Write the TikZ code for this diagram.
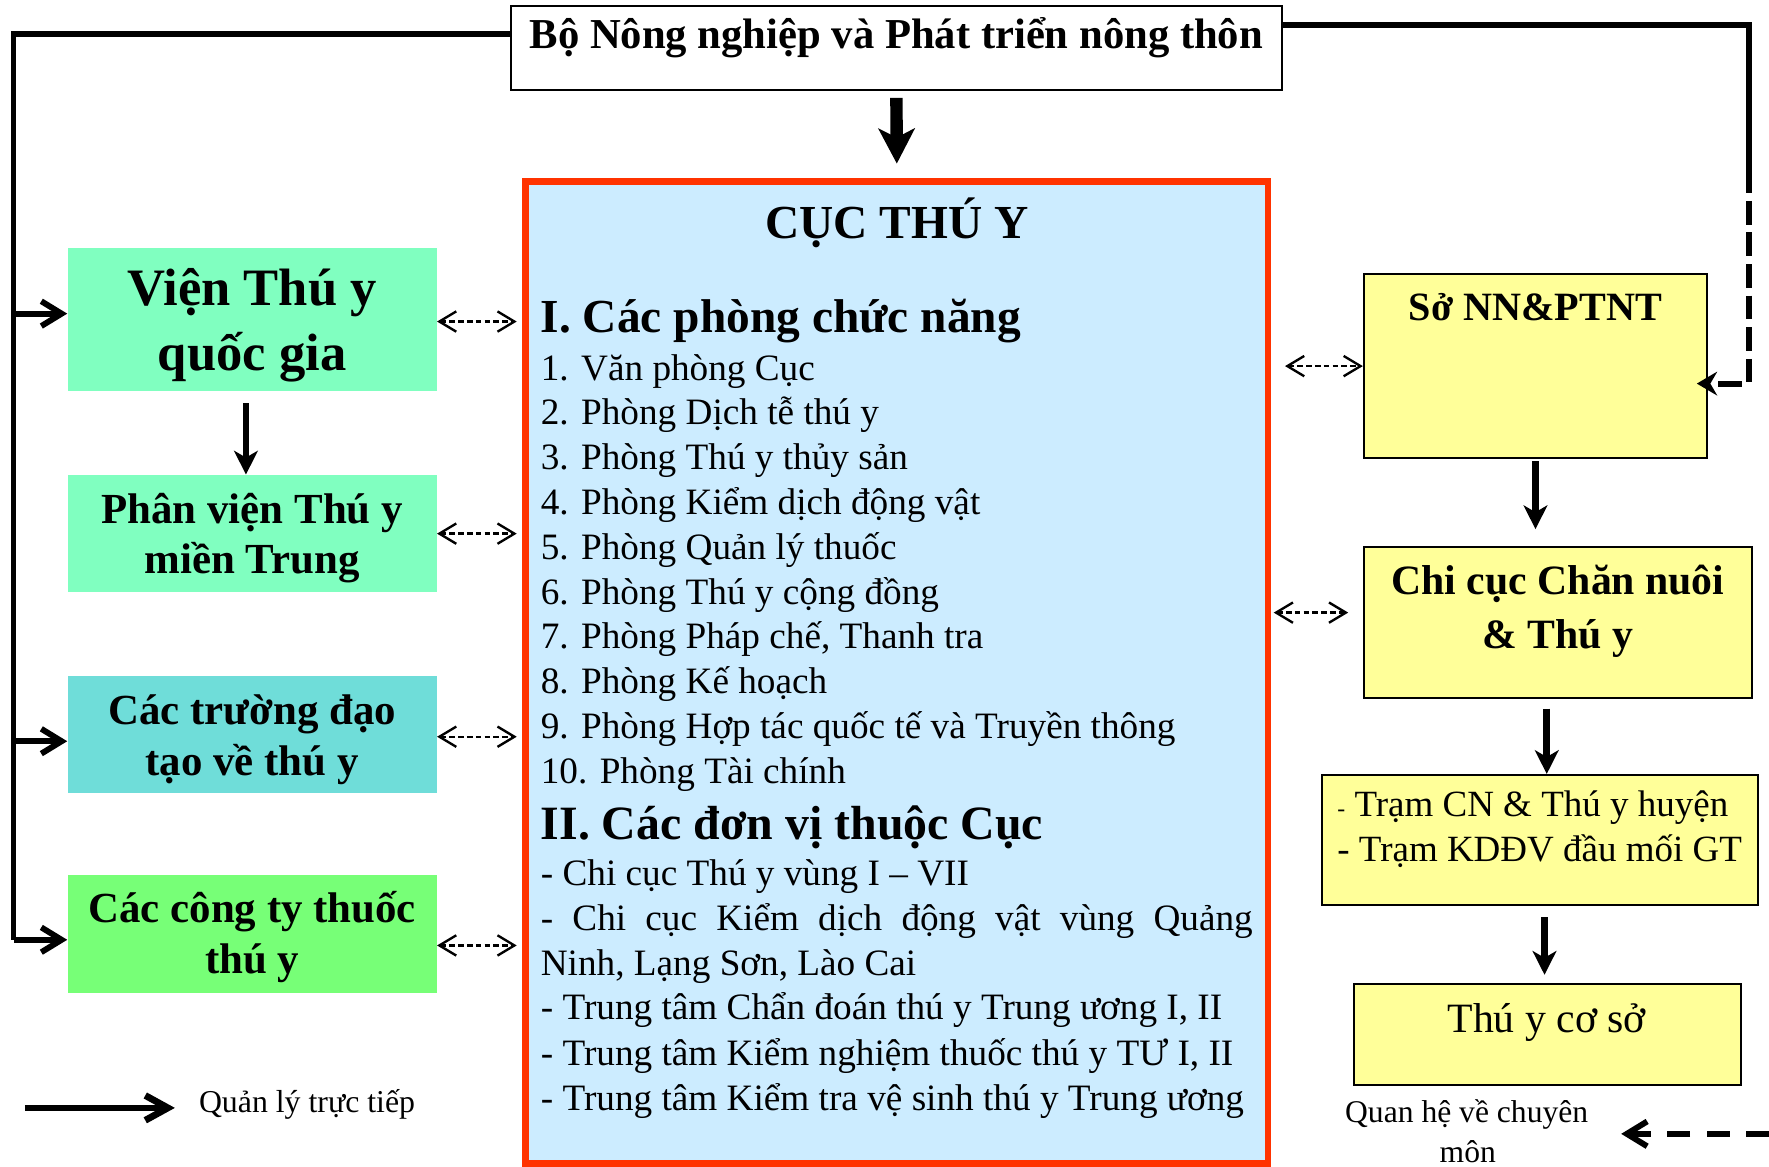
\documentclass[tikz,border=0pt]{standalone}
\usepackage{fontspec}
\setmainfont{Liberation Serif}
\usetikzlibrary{arrows.meta,calc}
\definecolor{mint}{HTML}{80FFC0}
\definecolor{tealbox}{HTML}{6FDDD9}
\definecolor{lgreen}{HTML}{77FF77}
\definecolor{cucblue}{HTML}{CCECFF}
\definecolor{cucred}{HTML}{FF3300}
\definecolor{lyellow}{HTML}{FFFF99}
\begin{document}
\begin{tikzpicture}[x=0.5pt,y=-0.5pt,
  txt/.style={inner sep=0pt, font=\fontsize{#1}{#1}\selectfont},
  btxt/.style={inner sep=0pt, font=\fontsize{#1}{#1}\selectfont\bfseries},
  lbox/.style={draw=none, inner sep=0pt, minimum width=163.5pt, minimum height=52pt},
  ybox/.style={draw=black, line width=1pt, fill=lyellow, inner sep=0pt},
  thickline/.style={line width=2.6pt},
  barb/.style={line width=2.6pt, -{Straight Barb[length=9pt,width=11pt]}},
  bigarrow/.style={line width=3pt, -{Stealth[length=10.5pt,width=10.5pt,inset=3pt]}},
  rel/.style={line width=1.05pt, dash pattern=on 2.5pt off 1.4pt,
    {Straight Barb[length=7.5pt,width=9pt]}-{Straight Barb[length=7.5pt,width=9pt]}},
]
\useasboundingbox (0,0) rectangle (1568,1034);

% top box
\node[draw=black, line width=0.8pt, minimum width=341.5pt, minimum height=37.5pt, inner sep=0pt] (bo) at (794.5,42.5) {};
\node[btxt=18.9, anchor=base] (botxt) at (794.5,43) {Bộ Nông nghiệp và Phát triển nông thôn};

% central box
\node[draw=cucred, line width=3pt, fill=cucblue, minimum width=329pt, minimum height=435pt, inner sep=0pt] (cuc) at (795,596) {};
\node[btxt=21, anchor=base] (cuct) at (795,211) {CỤC THÚ Y};
\node[btxt=21, anchor=base west] (h1) at (479,295) {I. Các phòng chức năng};
\foreach \t [count=\i] in {1. Văn phòng Cục, 2. Phòng Dịch tễ thú y, 3. Phòng Thú y thủy sản,
  4. Phòng Kiểm dịch động vật, 5. Phòng Quản lý thuốc, 6. Phòng Thú y cộng đồng,
  {7. Phòng Pháp chế, Thanh tra}, 8. Phòng Kế hoạch, 9. Phòng Hợp tác quốc tế và Truyền thông,
  10. Phòng Tài chính}
  \node[txt=16.5, anchor=base west] (p\i) at (479,{337+39.7*(\i-1)}) {\t};
\node[btxt=21.2, anchor=base west] (h2) at (479,744) {II. Các đơn vị thuộc Cục};
\node[txt=16.5, anchor=base west] (u1) at (479,785) {- Chi cục Thú y vùng I – VII};
\node[txt=16.5, anchor=base west] (u2) at (479,825) {\makebox[315.5pt][s]{- Chi cục Kiểm dịch động vật vùng Quảng}};
\node[txt=16.5, anchor=base west] (u3) at (479,865) {Ninh, Lạng Sơn, Lào Cai};
\node[txt=16.5, anchor=base west] (u4) at (479,904) {- Trung tâm Chẩn đoán thú y Trung ương I, II};
\node[txt=16.5, anchor=base west] (u5) at (479,944) {- Trung tâm Kiểm nghiệm thuốc thú y TƯ I, II};
\node[txt=16.5, anchor=base west] (u6) at (479,984) {- Trung tâm Kiểm tra vệ sinh thú y Trung ương};

% left boxes
\node[lbox, fill=mint, minimum height=63.5pt] (vien) at (223.5,283.5) {};
\node[btxt=23.3, anchor=base] (vien1) at (223.5,271) {Viện Thú y};
\node[btxt=23.3, anchor=base] (vien2) at (223.5,328) {quốc gia};
\node[lbox, fill=mint] (phan) at (223.5,473) {};
\node[btxt=19, anchor=base] (phan1) at (223.5,464) {Phân viện Thú y};
\node[btxt=19, anchor=base] (phan2) at (223.5,508) {miền Trung};
\node[lbox, fill=tealbox] (truong) at (223.5,651) {};
\node[btxt=19, anchor=base] (truong1) at (223.5,642) {Các trường đạo};
\node[btxt=19, anchor=base] (truong2) at (223.5,687) {tạo về thú y};
\node[lbox, fill=lgreen] (congty) at (223.5,828) {};
\node[btxt=19, anchor=base] (congty1) at (223.5,818) {Các công ty thuốc};
\node[btxt=19, anchor=base] (congty2) at (223.5,863) {thú y};

% right boxes
\node[ybox, minimum width=152pt, minimum height=81.5pt] (so) at (1361,324.5) {};
\node[btxt=17.8, anchor=base] (sot) at (1361,284) {Sở NN\&PTNT};
\node[ybox, minimum width=172pt, minimum height=67pt] (chicuc) at (1381,552) {};
\node[btxt=18.5, anchor=base] (chicuc1) at (1381,527) {Chi cục Chăn nuôi};
\node[btxt=18.5, anchor=base] (chicuc2) at (1381,575) {\& Thú y};
\node[ybox, minimum width=193pt, minimum height=57.5pt] (tram) at (1365,744.5) {};
\node[txt=16.4, anchor=base west] (tram1) at (1185,724) {{\fontsize{10.5}{10.5}\selectfont -} Trạm CN \& Thú y huyện};
\node[txt=16.4, anchor=base west] (tram2) at (1185,764) {- Trạm KDĐV đầu mối GT};
\node[ybox, minimum width=171.5pt, minimum height=45pt] (coso) at (1371.5,917) {};
\node[txt=18.5, anchor=base] (cosot) at (1371,915) {Thú y cơ sở};

% legend texts
\node[txt=14.1, anchor=base west] (lg1t) at (176,986) {Quản lý trực tiếp};
\node[txt=14, anchor=base] (lg2t) at (1300,995) {Quan hệ về chuyên};
\node[txt=14, anchor=base] (lg2u) at (1301,1030) {môn};

% main management lines
\coordinate (lbot) at (12,833);
\coordinate (b1) at (12,278);
\coordinate (b2) at (12,657);
\draw[thickline] ([yshift=6pt]bo.west) -| (lbot);
\draw[barb] (b1) -- (b1 -| vien.west);
\draw[barb] (b2) -- (b2 -| truong.west);
\draw[barb] (lbot) -- (lbot -| congty.west);

\draw[line width=5.5pt, -{Stealth[length=15.5pt,width=16pt,inset=4pt]}, shorten <=3pt, shorten >=6.5pt] (bo.south) -- (cuc.north);
\coordinate (va) at ([xshift=-2.75pt]vien.south);
\draw[bigarrow, shorten <=5pt] (va) -- (va |- phan.north);

% right line to So
\coordinate (rc) at (1550,171);
\coordinate (rc2) at (1550,178);
\coordinate (rd) at (1550,340);
\draw[thickline] ([yshift=10.25pt]bo.east) -| (rc);
\draw[thickline, dash pattern=on 10.5pt off 3.5pt, -{Stealth[length=9pt,width=10.5pt,inset=3pt]}, shorten >=-5pt] (rc2) -- (rd) -- (rd -| so.east);

\draw[bigarrow, shorten <=1pt, shorten >=7.5pt] (so.south) -- (so.south |- chicuc.north);
\coordinate (cc) at ([xshift=-5pt]chicuc.south);
\draw[bigarrow, shorten <=4pt] (cc) -- (cc |- tram.north);
\coordinate (tc) at ([xshift=2pt]tram.south);
\draw[bigarrow, shorten <=5pt, shorten >=3.5pt] (tc) -- (tc |- coso.north);

% professional relations
\coordinate (r1) at ($(vien.east)+(0,1.5)$);
\coordinate (r3) at ($(truong.east)+(0,2)$);
\coordinate (r4) at ($(congty.east)+(0,10)$);
\coordinate (r6) at ($(chicuc.west)+(0,-9)$);
\draw[rel, shorten >=2.5pt] (r1) -- (r1 -| cuc.west);
\draw[rel, shorten >=2.5pt] (phan.east) -- (phan.east -| cuc.west);
\draw[rel, shorten >=2.5pt] (r3) -- (r3 -| cuc.west);
\draw[rel, shorten >=2.5pt] (r4) -- (r4 -| cuc.west);
\draw[rel, shorten <=6pt] (cuc.east |- so.west) -- (so.west);
\draw[rel, shorten <=1pt, shorten >=6.5pt] (cuc.east |- r6) -- (r6);

% legend arrows
\coordinate (lg1a) at (22,982);
\coordinate (lg1b) at (155,982);
\draw[line width=3pt, -{Straight Barb[length=10pt,width=11pt]}] (lg1a) -- (lg1b);
\coordinate (lg2a) at (1568,1005);
\coordinate (lg2b) at (1437,1005);
\draw[line width=2.6pt, dash pattern=on 10pt off 7.5pt, -{Straight Barb[length=9pt,width=11pt]}] (lg2a) -- (lg2b);
\end{tikzpicture}
\end{document}
